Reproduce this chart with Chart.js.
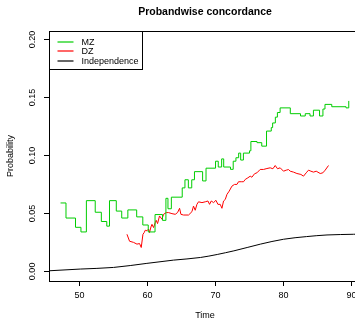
<!DOCTYPE html>
<html lang="en">
<head>
<meta charset="UTF-8">
<title>Probandwise concordance</title>
<script src="https://cdn.jsdelivr.net/npm/chart.js"></script>
<style>
  html, body { margin: 0; padding: 0; background: #fff; overflow: hidden; }
  #wrap { width: 355px; height: 320px; overflow: hidden; }
</style>
</head>
<body>
<div id="wrap">
  <canvas id="concordance" width="375" height="320"></canvas>
</div>
<script>
// MZ pairs: step function, value holds from each time until the next one
const mzTime = [47.2, 48.0, 49.4, 50.2, 51.0, 52.3, 53.2, 54.0, 54.4, 55.4, 56.2, 57.1, 58.4, 59.3, 60.1,
  61.1, 62.2, 62.7, 63.0, 63.5, 65.1, 65.5, 66.0, 66.5, 66.9, 68.1, 68.6, 70.0, 70.4, 70.9, 71.2,
  72.2, 72.6, 73.0, 73.4, 73.7, 74.1, 75.0, 75.2, 76.1, 76.8, 77.5, 78.2, 78.4, 78.8, 79.1, 79.5,
  81.0, 82.5, 83.2, 83.9, 84.4, 85.3, 85.8, 86.1, 87.1, 89.2, 89.6];
const mzProb = [0.059, 0.046, 0.038, 0.034, 0.061, 0.051, 0.043, 0.039, 0.061, 0.052, 0.046, 0.053, 0.047, 0.040, 0.034,
  0.049, 0.044, 0.063, 0.054, 0.064, 0.072, 0.079, 0.072, 0.079, 0.086, 0.078, 0.089, 0.095, 0.090, 0.097, 0.090,
  0.088, 0.095, 0.098, 0.102, 0.096, 0.102, 0.104, 0.112, 0.111, 0.108, 0.121, 0.124, 0.128, 0.133, 0.137, 0.141,
  0.136, 0.134, 0.136, 0.134, 0.139, 0.134, 0.140, 0.144, 0.142, 0.141, 0.147];

// DZ pairs
const dzTime = [56.97, 57.35, 57.94, 58.44, 58.82, 59.07, 59.32, 59.51, 59.66, 59.91, 60.15, 60.29, 60.50, 60.65,
  60.88, 61.13, 61.28, 61.47, 61.76, 62.12, 62.35, 62.75, 63.09, 63.59, 64.07, 64.41, 64.71, 64.91, 65.29,
  66.03, 66.53, 66.76, 67.01, 67.26, 67.50, 68.00, 68.49, 68.88, 69.12, 69.37, 69.71, 70.06, 70.35, 70.69,
  70.94, 71.18, 71.43, 71.68, 72.01, 72.41, 72.79, 73.15, 73.38, 73.78, 74.12, 74.37, 74.76, 75.10, 75.35,
  75.74, 76.09, 76.57, 77.06, 77.56, 78.04, 78.44, 78.78, 79.12, 79.51, 80.00, 80.40, 80.74, 80.99, 81.47,
  81.97, 82.56, 82.94, 83.34, 83.68, 84.03, 84.41, 84.81, 85.40, 85.79, 86.13, 86.62];
const dzProb = [0.032, 0.026, 0.025, 0.0235, 0.024, 0.0206, 0.032, 0.0335, 0.0355, 0.035, 0.0365, 0.0335, 0.0383, 0.0406,
  0.0378, 0.042, 0.044, 0.0412, 0.0478, 0.045, 0.0492, 0.0507, 0.0507, 0.0498, 0.0492, 0.0507, 0.0544, 0.0492, 0.0486,
  0.0486, 0.0515, 0.0563, 0.0527, 0.0578, 0.060, 0.0593, 0.060, 0.0607, 0.0578, 0.0607, 0.0593, 0.0613, 0.0578, 0.0578,
  0.0544, 0.0607, 0.062, 0.0664, 0.0692, 0.0735, 0.075, 0.075, 0.0773, 0.0773, 0.0773, 0.0793, 0.0807, 0.0821, 0.0812,
  0.0842, 0.0850, 0.0879, 0.0879, 0.0887, 0.0893, 0.0885, 0.0913, 0.0885, 0.0893, 0.0864, 0.0873, 0.0878, 0.0864, 0.0856,
  0.0844, 0.0836, 0.0821, 0.085, 0.0873, 0.0864, 0.0856, 0.0864, 0.0844, 0.085, 0.0873, 0.0913];

// expected concordance under independence
const indTime = [45.5, 50.1, 55.0, 59.9, 63.8, 67.8, 72.7, 76.6, 80.0, 83.4, 86.4, 90.3, 91.4];
const indProb = [0.0005, 0.002, 0.0034, 0.0069, 0.0097, 0.012, 0.0177, 0.0235, 0.0277, 0.030, 0.0314, 0.032, 0.0322];

const seriesNames = ['MZ', 'DZ', 'Independence'];
const yTicks = [0, 0.05, 0.10, 0.15, 0.20];
const xTicks = [50, 60, 70, 80, 90];

const pts = (xs, ys) => xs.map((x, i) => ({ x: x, y: ys[i] }));
const FONT = '"Liberation Sans", Arial, sans-serif';

// box, main title and legend drawn R-style
const rFrame = {
  id: 'rFrame',
  afterDraw(chart) {
    const { ctx, chartArea: a } = chart;
    ctx.save();
    ctx.strokeStyle = '#000';
    ctx.lineWidth = 1;
    ctx.strokeRect(Math.round(a.left) + 0.5, Math.round(a.top) + 0.5,
      Math.round(a.right - a.left), Math.round(a.bottom - a.top));

    ctx.fillStyle = '#000';
    ctx.font = 'bold 10.5px ' + FONT;
    ctx.textAlign = 'center';
    ctx.textBaseline = 'middle';
    ctx.fillText('Probandwise concordance', (a.left + a.right) / 2, 12);

    // legend
    const lx = Math.round(a.left) + 0.5, ly = Math.round(a.top) + 0.5;
    ctx.fillStyle = '#fff';
    ctx.fillRect(lx, ly, 93, 38);
    ctx.strokeRect(lx, ly, 93, 38);
    ctx.font = '9px ' + FONT;
    ctx.textAlign = 'left';
    chart.data.datasets.forEach((ds, i) => {
      const y = Math.round(ly + 10 + i * 9.5);
      ctx.strokeStyle = ds.borderColor;
      ctx.lineWidth = 1.2;
      ctx.beginPath();
      ctx.moveTo(lx + 8, y);
      ctx.lineTo(lx + 24, y);
      ctx.stroke();
      ctx.fillStyle = '#000';
      ctx.fillText(ds.label, lx + 32, y + 0.5);
    });
    ctx.restore();
  }
};

const axisFont = { family: FONT, size: 9, lineHeight: 1 };

new Chart(document.getElementById('concordance'), {
  type: 'line',
  data: {
    datasets: [
      { label: seriesNames[0], data: pts(mzTime, mzProb), stepped: true,
        borderColor: '#00cd00', borderWidth: 1, pointRadius: 0 },
      { label: seriesNames[1], data: pts(dzTime, dzProb),
        borderColor: '#ff0000', borderWidth: 1, pointRadius: 0, tension: 0 },
      { label: seriesNames[2], data: pts(indTime, indProb),
        borderColor: '#000000', borderWidth: 1, pointRadius: 0, cubicInterpolationMode: 'monotone' }
    ]
  },
  options: {
    responsive: false,
    animation: false,
    devicePixelRatio: 1,
    layout: { padding: { left: 0, right: 14, top: 31, bottom: 0 } },
    plugins: { legend: { display: false }, title: { display: false }, tooltip: { enabled: false } },
    scales: {
      x: {
        type: 'linear', min: 45.5, max: 91.4,
        afterFit: s => { s.height = 39; },
        afterBuildTicks: s => { s.ticks = xTicks.map(v => ({ value: v })); },
        ticks: { color: '#000', font: axisFont, padding: 5, maxRotation: 0 },
        grid: { drawOnChartArea: false, tickLength: 5, color: '#000' },
        border: { display: false },
        title: { display: true, text: 'Time', color: '#000', font: axisFont, padding: 0 }
      },
      y: {
        type: 'linear', min: -0.0083, max: 0.2073,
        afterFit: s => { s.width = 49; },
        afterBuildTicks: s => { s.ticks = yTicks.map(v => ({ value: v })); },
        ticks: { color: '#000', font: axisFont, padding: 3, minRotation: 90, maxRotation: 90,
          crossAlign: 'center', callback: v => v.toFixed(2) },
        grid: { drawOnChartArea: false, tickLength: 5, color: '#000' },
        border: { display: false },
        title: { display: true, text: 'Probability', color: '#000', font: axisFont, padding: { top: 6.5 } }
      }
    }
  },
  plugins: [rFrame]
});
</script>
</body>
</html>
